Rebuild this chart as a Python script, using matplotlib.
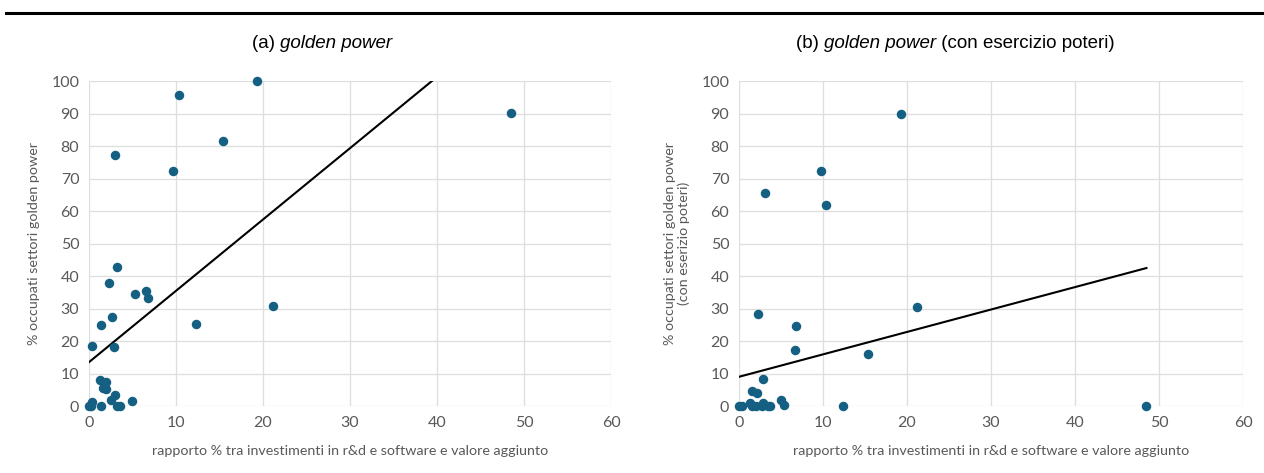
import numpy as np
import matplotlib
matplotlib.use("Agg")
import matplotlib.pyplot as plt
from matplotlib.lines import Line2D

# (a) golden power
x_a = [19.3, 10.4, 48.5, 15.4, 3.0, 9.6, 3.2, 2.3, 5.3, 6.6, 6.8, 21.2, 2.7, 1.4,
       12.3, 0.4, 2.9, 1.3, 2.0, 1.6, 1.9, 3.0, 2.5, 5.0, 0.4, 0.0, 0.2, 1.4, 3.2, 3.6]
y_a = [100.0, 95.6, 90.3, 81.7, 77.4, 72.2, 42.8, 37.9, 34.5, 35.3, 33.1, 30.8, 27.4, 24.9,
       25.1, 18.5, 18.1, 8.1, 7.3, 5.6, 5.1, 3.4, 1.8, 1.6, 1.2, 0.0, 0.0, 0.0, 0.0, 0.0]
trend_a = (2.195, 13.5)   # slope, intercept (Excel linear trendline)

# (b) golden power (con esercizio poteri)
x_b = [19.3, 9.7, 3.1, 10.4, 2.3, 21.2, 6.8, 6.7, 15.4, 2.8, 1.5, 2.1, 5.0, 5.4,
       12.4, 48.5, 0.0, 0.4, 1.3, 1.6, 2.0, 2.9, 2.7, 3.4, 3.7]
y_b = [90.0, 72.3, 65.7, 61.8, 28.3, 30.4, 24.7, 17.1, 15.9, 8.3, 4.7, 4.1, 1.7, 0.2,
       0.0, 0.0, 0.0, 0.0, 0.8, 0.0, 0.0, 0.8, 0.0, 0.0, 0.0]
trend_b = (0.69, 9.0)

x_ticks = [0, 10, 20, 30, 40, 50, 60]
y_ticks = [0, 10, 20, 30, 40, 50, 60, 70, 80, 90, 100]
x_label = "rapporto % tra investimenti in r&d e software e valore aggiunto"
y_label_a = "% occupati settori golden power"
y_label_b = "% occupati settori golden power\n(con eserizio poteri)"
title_a = [("(a) ", "normal"), ("golden power", "italic")]
title_b = [("(b) ", "normal"), ("golden power", "italic"), (" (con esercizio poteri)", "normal")]

dot_color = "#156082"
grey = "#595959"

fig = plt.figure(figsize=(12.64, 4.73), dpi=100)

# rule across the top
fig.add_artist(Line2D([0.005, 1.0], [0.973, 0.973], color="black", lw=2.2,
                      transform=fig.transFigure))


def draw_panel(ax, xs, ys, trend, ylabel):
    ax.scatter(xs, ys, s=34, color=dot_color, zorder=3, clip_on=False)
    slope, icpt = trend
    xt = np.array([0, max(xs)])
    ax.plot(xt, slope * xt + icpt, color="black", lw=1.5, zorder=2)
    ax.set_xlim(0, 60)
    ax.set_ylim(0, 100)
    ax.set_xticks(x_ticks)
    ax.set_yticks(y_ticks)
    ax.grid(True, color="#dedede", lw=0.9)
    ax.set_axisbelow(True)
    for s in ax.spines.values():
        s.set_visible(False)
    ax.tick_params(length=0, colors=grey, labelsize=11.5, pad=7)
    for lab in ax.get_xticklabels() + ax.get_yticklabels():
        lab.set_family("Lato")
    ax.set_xlabel(x_label, color=grey, fontsize=10.3, family="Lato", labelpad=11)
    ax.set_ylabel(ylabel, color=grey, fontsize=10.3, family="Lato", labelpad=8)


def draw_title(parts, xc, y):
    # lay the pieces side by side, then centre the whole title on xc
    r = fig.canvas.get_renderer()
    texts, widths = [], []
    for s, st in parts:
        t = fig.text(0, y, s, ha="left", va="center", fontsize=13.5,
                     family="Liberation Sans", style=st)
        texts.append(t)
        widths.append(t.get_window_extent(r).width)
    x0 = xc * fig.bbox.width - sum(widths) / 2
    for t, w in zip(texts, widths):
        t.set_x(x0 / fig.bbox.width)
        x0 += w


ax1 = fig.add_axes([0.0704, 0.1416, 0.413, 0.687])
draw_panel(ax1, x_a, y_a, trend_a, y_label_a)

ax2 = fig.add_axes([0.5847, 0.1416, 0.3987, 0.687])
draw_panel(ax2, x_b, y_b, trend_b, y_label_b)

draw_title(title_a, 322 / 1264, 0.908)
draw_title(title_b, 955 / 1264, 0.908)

fig.savefig("out.png", dpi=100)
